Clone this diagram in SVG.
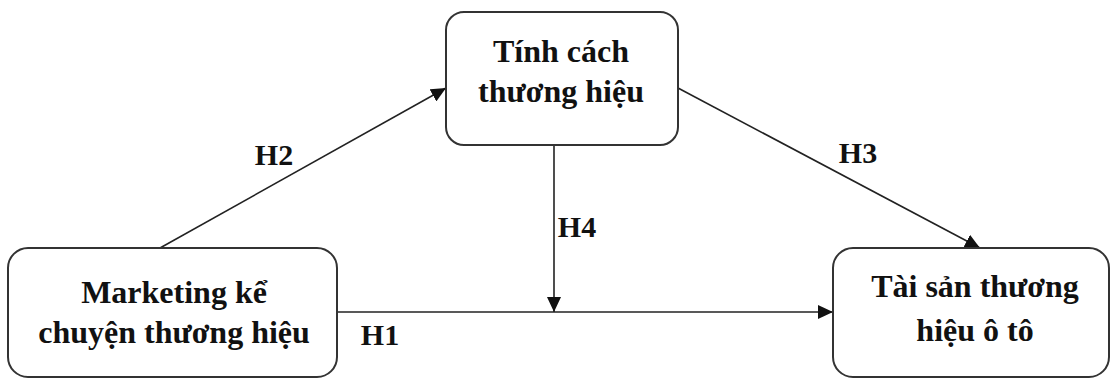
<svg xmlns="http://www.w3.org/2000/svg" width="1111" height="380" viewBox="0 0 1111 380">
  <style>
    .box { fill: #ffffff; stroke: #333333; stroke-width: 2; }
    .lbl { font-family: "Liberation Serif", "Times New Roman", serif; font-weight: bold; font-size: 30px; fill: #111111; text-anchor: middle; }
    .name { font-size: 32px; }
    .edge { stroke: #222222; stroke-width: 1.6; fill: none; marker-end: url(#arrow); }
  </style>
  <defs>
    <marker id="arrow" markerUnits="userSpaceOnUse" markerWidth="16" markerHeight="14" refX="15" refY="7" orient="auto">
      <path d="M0,0 L15,7 L0,14 Z" fill="#111111"/>
    </marker>
  </defs>
  <rect width="1111" height="380" fill="#ffffff"/>

  <g id="connectors">
    <!-- H1: storytelling marketing -> brand equity -->
    <line class="edge" x1="337" y1="312" x2="833" y2="312"/>
    <!-- H2: storytelling marketing -> brand personality -->
    <line class="edge" x1="160" y1="248" x2="446" y2="88"/>
    <!-- H3: brand personality -> brand equity -->
    <line class="edge" x1="678" y1="88" x2="980" y2="248"/>
    <!-- H4: moderating path onto H1 -->
    <line class="edge" x1="554" y1="145" x2="554" y2="312"/>
    <text class="lbl" x="380" y="345">H1</text>
    <text class="lbl" x="274" y="165">H2</text>
    <text class="lbl" x="858" y="163">H3</text>
    <text class="lbl" x="577" y="237">H4</text>
  </g>

  <g id="node-marketing">
    <rect class="box" x="8" y="248" width="329" height="129" rx="20"/>
    <text class="lbl name" x="174" y="303">Marketing kể</text>
    <text class="lbl name" x="174" y="343">chuyện thương hiệu</text>
  </g>

  <g id="node-personality">
    <rect class="box" x="446" y="12" width="232" height="133" rx="18"/>
    <text class="lbl name" x="561" y="62">Tính cách</text>
    <text class="lbl name" x="561" y="102">thương hiệu</text>
  </g>

  <g id="node-equity">
    <rect class="box" x="833" y="248" width="276" height="129" rx="20"/>
    <text class="lbl name" x="975" y="297">Tài sản thương</text>
    <text class="lbl name" x="975" y="341">hiệu ô tô</text>
  </g>
</svg>
